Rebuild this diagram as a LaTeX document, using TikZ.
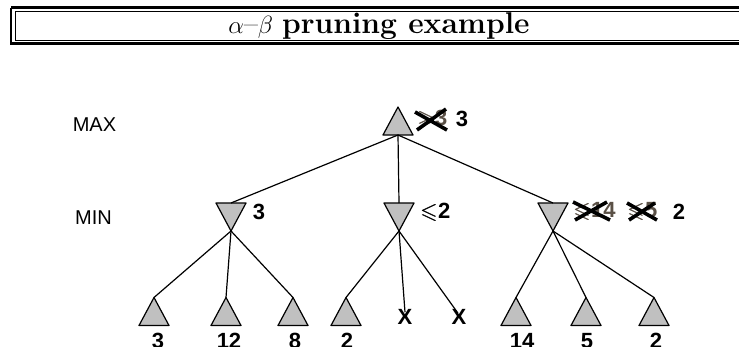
\documentclass[tikz,border=0pt]{standalone}
\usepackage{amssymb}
\usepackage{fontspec}
\setsansfont{Liberation Sans}
\definecolor{trigray}{RGB}{192,192,192}
\definecolor{ghost}{RGB}{90,80,70}
\newcommand\myleq{\makebox[0pt][l]{$\leqslant$}\hspace{0.8pt}$\leqslant$}
\newcommand\mygeq{\makebox[0pt][l]{$\geqslant$}\hspace{0.8pt}$\geqslant$}
\tikzset{
  tri/.style={draw=black, fill=trigray, line width=1.2pt, line join=round},
  edge/.style={draw=black, line width=1.2pt},
  lvl/.style={font=\sffamily\fontsize{20}{22}\selectfont, inner sep=0pt},
  val/.style={font=\sffamily\bfseries\fontsize{22}{24}\selectfont, inner sep=0pt},
  oldval/.style={val, text=ghost, anchor=west},
  strike/.style={line width=3.6pt},
  upT/.pic={\path[tri] (-15,14) -- (15,14) -- (0,-14) -- cycle;
            \coordinate (-top) at (0,-14); \coordinate (-bot) at (0,14);},
  downT/.pic={\path[tri] (-15,-14) -- (15,-14) -- (0,14) -- cycle;
            \coordinate (-top) at (0,-14); \coordinate (-bot) at (0,14);},
}
\begin{document}
\begin{tikzpicture}[x=1pt,y=-1pt]
\useasboundingbox (0,0) rectangle (739,346);
\clip (0,0) rectangle (739,346);
% title box
\draw[line width=2.2pt] (11,7.5) -- (760,7.5) (11,7.5) -- (11,43.5) -- (760,43.5);
\draw[line width=1pt] (15,11.5) -- (760,11.5) (15,11.5) -- (15,40) -- (760,40);
\node[inner sep=0pt, font=\fontsize{30}{33}\selectfont] (title) at (379,26) {$\alpha$--$\beta$ \textbf{pruning example}};
% level labels
\node[lvl] (max) at (94.5,125) {MAX};
\node[lvl] (min) at (93.5,218) {MIN};
% triangles
\pic (r) at (398,121) {upT};
\pic (m1) at (231,217) {downT};
\pic (m2) at (399,217) {downT};
\pic (m3) at (553,217) {downT};
\pic (l1) at (154,311.5) {upT};
\pic (l2) at (226,311.5) {upT};
\pic (l3) at (293,311.5) {upT};
\pic (l4) at (346,311.5) {upT};
\pic (l5) at (516,311.5) {upT};
\pic (l6) at (586,311.5) {upT};
\pic (l7) at (654,311.5) {upT};
\node[val] (x1) at (405,317) {X};
\node[val] (x2) at (459,317) {X};
% edges
\draw[edge] (r-bot) -- (m1-top);
\draw[edge] (r-bot) -- (m2-top);
\draw[edge] (r-bot) -- (m3-top);
\draw[edge] (m1-bot) -- (l1-top);
\draw[edge] (m1-bot) -- (l2-top);
\draw[edge] (m1-bot) -- (l3-top);
\draw[edge] (m2-bot) -- (l4-top);
\draw[edge] (m2-bot) -- ([yshift=-3pt]x1.north);
\draw[edge] (m2-bot) -- ([xshift=-1pt,yshift=-4pt]x2.north);
\draw[edge] (m3-bot) -- (l5-top);
\draw[edge] (m3-bot) -- (l6-top);
\draw[edge] (m3-bot) -- (l7-top);
% node values
\node[oldval] (rold) at (417,119) {\mygeq 3};
\draw[strike] (415,112) -- (447,130) (417,130) -- (446,109);
\node[val] (rv) at (462,118.5) {3};
\node[val] (m1v) at (259,212) {3};
\node[val, anchor=west] (m2v) at (420,212) {\myleq 2};
\node[oldval] (m3a) at (573,211) {\myleq 14};
\draw[strike] (573,202) -- (610,220) (575,220) -- (607,202);
\node[oldval] (m3b) at (627,211) {\myleq 5};
\draw[strike] (627,203) -- (657,220) (629,220) -- (655,203);
\node[val] (m3v) at (679,212) {2};
% leaf values
\node[val] (v1) at (158,341) {3};
\node[val] (v2) at (229,341) {12};
\node[val] (v3) at (295,341) {8};
\node[val] (v4) at (347,341) {2};
\node[val] (v5) at (522,341) {14};
\node[val] (v6) at (587,341) {5};
\node[val] (v7) at (656,341) {2};
\end{tikzpicture}
\end{document}
